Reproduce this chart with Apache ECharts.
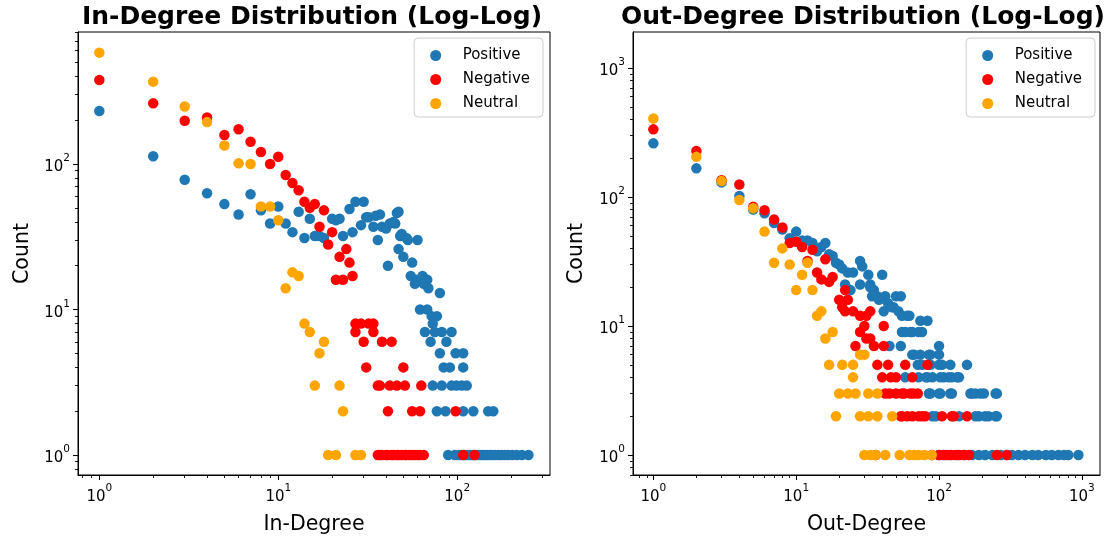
<!DOCTYPE html>
<html><head><meta charset="utf-8">
<script src="https://cdn.jsdelivr.net/npm/echarts@6/dist/echarts.min.js"></script>
<style>html,body{margin:0;padding:0;background:#fff}#c{width:1115px;height:540px}</style>
</head><body><div id="c"></div>
<script>
const seriesNames = ['Positive', 'Negative', 'Neutral'];
const seriesColors = ['#1f77b4', '#ff0000', '#ffa500'];
const titles = ['In-Degree Distribution (Log-Log)', 'Out-Degree Distribution (Log-Log)'];
const xNames = ['In-Degree', 'Out-Degree'];
const yName = 'Count';
const majorTickValues = [1, 10, 100, 1000];
const minorTickValues = [0.6, 0.7, 0.8, 0.9, 2, 3, 4, 5, 6, 7, 8, 9, 20, 30, 40, 50, 60, 70, 80, 90, 200, 300, 400, 500, 600, 700, 800, 900, 2000];

// In-degree: [degree, count]
const inPositive = [[1,231],[2,113],[3,78],[4,63],[5,53],[6,45],[7,62],[8,48],[9,39],[10,51],[11,39],[12,34],[13,47],[14,31],[15,42],[16,32],[17,32],[18,31],[20,42],[21,41],[22,42],[23,32],[25,49],[26,34],[27,55],[29,38],[30,55],[31,43],[32,43],[34,37],[35,44],[36,30],[37,45],[38,37],[40,36],[41,20],[42,39],[44,40],[45,39],[46,46],[47,47],[48,32],[49,33],[47,26],[50,23],[52,31],[53,30],[56,21],[60,30],[55,17],[58,15],[59,16],[64,17],[65,15],[68,16],[69,14],[80,13],[62,10],[68,10],[72,9],[77,9],[73,8],[66,7],[75,7],[82,7],[93,7],[71,6],[87,6],[80,5],[98,5],[108,5],[84,4],[91,4],[108,4],[73,3],[82,3],[93,3],[99,3],[106,3],[113,3],[77,2],[86,2],[108,2],[123,2],[149,2],[159,2],[89,1],[97,1],[102,1],[106,1],[110,1],[114,1],[118,1],[122,1],[126,1],[130,1],[134,1],[138,1],[142,1],[147,1],[152,1],[157,1],[163,1],[170,1],[177,1],[185,1],[193,1],[203,1],[215,1],[230,1],[250,1]];
const inNegative = [[1,378],[2,261],[3,198],[4,209],[5,158],[6,173],[7,142],[8,121],[9,100],[10,112],[11,84],[12,74],[13,66],[14,55],[15,50],[16,53],[18,48],[17,37],[20,34],[19,28],[24,26],[22,23],[25,21],[21,16],[23,16],[26,17],[27,8],[29,8],[32,8],[34,8],[27,7],[34,7],[30,6],[38,6],[43,6],[31,4],[50,4],[36,3],[37,3],[42,3],[46,3],[51,3],[63,3],[41,2],[56,2],[62,2],[98,2],[36,1],[37,1],[38,1],[40,1],[41,1],[43,1],[44,1],[46,1],[47,1],[49,1],[51,1],[52,1],[54,1],[56,1],[58,1],[60,1],[62,1],[65,1],[108,1],[125,1]];
const inNeutral = [[1,582],[2,368],[3,248],[4,194],[5,134],[6,101],[7,100],[8,51],[9,51],[10,41],[11,14],[12,18],[13,17],[14,8],[15,7],[18,6],[17,5],[16,3],[22,3],[23,2],[19,1],[21,1],[27,1],[29,1]];

// Out-degree: [degree, count]
const outPositive = [[1,261],[2,167],[3,130],[4,102],[5,80],[6,75],[7,63],[8,56],[9,48],[10,54],[11,46],[12,46],[13,44],[15,41],[16,44],[14,38],[17,36],[18,35],[19,31],[20,30],[21,28],[23,26],[25,26],[28,32],[29,29],[32,25],[40,25],[22,21],[24,19],[28,21],[35,19],[37,17],[42,17],[44,15],[48,14],[50,17],[33,21],[33,20],[34,17],[38,16],[41,13],[47,14],[52,13],[60,12],[54,17],[55,12],[62,12],[74,11],[83,11],[55,9],[63,9],[72,9],[58,9],[65,9],[76,9],[45,7],[54,7],[100,7],[65,6],[67,6],[74,6],[85,6],[87,6],[100,6],[71,5],[76,5],[87,5],[100,5],[105,5],[120,5],[157,5],[58,4],[72,4],[81,4],[83,4],[90,4],[102,4],[108,4],[117,4],[123,4],[134,4],[138,4],[85,3],[87,3],[100,3],[102,3],[120,3],[123,3],[166,3],[170,3],[180,3],[195,3],[206,3],[249,3],[254,3],[90,2],[95,2],[138,2],[180,2],[190,2],[210,2],[222,2],[249,2],[254,2],[100,1],[110,1],[120,1],[135,1],[150,1],[170,1],[190,1],[210,1],[236,1],[270,1],[300,1],[324,1],[360,1],[400,1],[450,1],[495,1],[560,1],[616,1],[686,1],[750,1],[804,1],[946,1]];
const outNegative = [[1,335],[2,228],[3,135],[4,125],[5,84],[6,79],[7,67],[8,58],[9,44],[10,45],[11,41],[13,39],[12,32],[16,33],[14,26],[15,23],[17,22],[18,24],[22,19],[23,16],[20,16],[21,14],[22,13],[25,13],[28,12],[31,12],[33,13],[30,10],[41,10],[28,9],[31,8],[33,8],[26,7],[35,7],[41,7],[37,5],[44,5],[58,5],[83,5],[40,4],[46,4],[50,4],[65,4],[42,3],[45,3],[50,3],[55,3],[57,3],[63,3],[66,3],[71,3],[54,2],[55,2],[60,2],[65,2],[72,2],[76,2],[80,2],[105,2],[123,2],[127,2],[157,2],[36,1],[89,1],[100,1],[107,1],[114,1],[122,1],[130,1],[140,1],[150,1],[162,1],[254,1],[298,1]];
const outNeutral = [[1,407],[2,205],[3,133],[4,95],[5,82],[6,54],[7,31],[8,40],[9,30],[10,19],[11,25],[12,31],[13,19],[14,12],[15,13],[16,8],[18,9],[17,5],[21,5],[25,5],[25,4],[28,6],[30,6],[20,3],[23,3],[26,3],[32,3],[37,3],[19,2],[28,2],[32,2],[37,2],[47,2],[30,1],[33,1],[36,1],[42,1],[53,1],[62,1],[67,1],[72,1],[79,1],[89,1]];

const FONT = 'DejaVu Sans';
function fmt(v) {
  const l = Math.log10(v); const e = Math.round(l);
  if (Math.abs(l - e) > 1e-6) return '';
  return '{b|10}{s|' + e + '}';
}
const rich = {
  b: { fontSize: 15, fontFamily: FONT, color: '#000', lineHeight: 22, verticalAlign: 'bottom' },
  s: { fontSize: 10.5, fontFamily: FONT, color: '#000', lineHeight: 12, verticalAlign: 'top' }
};
function logAxis(gridIndex, min, max, name, nameGap) {
  return {
    type: 'log', logBase: 10, gridIndex, min, max, name,
    nameLocation: 'middle', nameGap,
    nameTextStyle: { fontFamily: FONT, fontSize: 20.5, color: '#000' },
    axisLine: { show: true, onZero: false, lineStyle: { color: '#000', width: 1 } },
    axisTick: { show: false },
    minorTick: { show: false },
    axisLabel: { formatter: fmt, rich, margin: 8, showMinLabel: false, showMaxLabel: false },
    splitLine: { show: false }, minorSplitLine: { show: false }
  };
}
// overlay axes in log10 space used only to draw matplotlib-style major/minor tick marks
function tickAxis(gridIndex, min, max, values, len, width, isY) {
  return {
    type: 'value', gridIndex, min: Math.log10(min), max: Math.log10(max),
    position: isY ? 'left' : 'bottom', silent: true,
    axisLine: { show: false, onZero: false }, axisLabel: { show: false }, splitLine: { show: false },
    axisTick: { show: true, length: len, customValues: values.map(v => Math.log10(v)), lineStyle: { color: '#000', width } }
  };
}
const xRanges = [[0.76, 330], [0.72, 1340]];
const yRanges = [[0.729, 807], [0.70, 1905]];
const grids = [
  { left: 78, top: 32, width: 472, height: 443, show: true, borderColor: '#000', borderWidth: 1 },
  { left: 633, top: 32, width: 467, height: 443, show: true, borderColor: '#000', borderWidth: 1 }
];
const xAxes = [
  logAxis(0, xRanges[0][0], xRanges[0][1], xNames[0], 39),
  logAxis(1, xRanges[1][0], xRanges[1][1], xNames[1], 39)
];
const yAxes = [
  logAxis(0, yRanges[0][0], yRanges[0][1], yName, 45),
  logAxis(1, yRanges[1][0], yRanges[1][1], yName, 46)
];
for (let g = 0; g < 2; g++) {
  xAxes.push(tickAxis(g, xRanges[g][0], xRanges[g][1], majorTickValues, 5, 1.1, false));
  xAxes.push(tickAxis(g, xRanges[g][0], xRanges[g][1], minorTickValues, 3, 0.9, false));
  yAxes.push(tickAxis(g, yRanges[g][0], yRanges[g][1], majorTickValues, 5, 1.1, true));
  yAxes.push(tickAxis(g, yRanges[g][0], yRanges[g][1], minorTickValues, 3, 0.9, true));
}
const data = [[inPositive, inNegative, inNeutral], [outPositive, outNegative, outNeutral]];
const series = [];
for (let g = 0; g < 2; g++) {
  for (let s = 0; s < 3; s++) {
    series.push({
      type: 'scatter', name: seriesNames[s], xAxisIndex: g, yAxisIndex: g,
      data: data[g][s], symbolSize: 10.5,
      itemStyle: { color: seriesColors[s], opacity: 1 },
      emphasis: { disabled: true }
    });
  }
}
function legend(right) {
  return {
    right, top: 38, orient: 'vertical', data: seriesNames, icon: 'circle',
    itemWidth: 44, itemHeight: 11, itemGap: 9, padding: [10, 13, 6, 16],
    borderColor: '#cccccc', borderWidth: 1, borderRadius: 4, backgroundColor: 'rgba(255,255,255,0.8)',
    textStyle: { fontFamily: FONT, fontSize: 15, color: '#000' }
  };
}
const chart = echarts.init(document.getElementById('c'), null, { renderer: 'canvas' });
chart.setOption({
  animation: false,
  backgroundColor: '#fff',
  title: [
    { text: titles[0], left: 312, top: 5, textAlign: 'center', padding: 0, textStyle: { fontFamily: FONT, fontWeight: 'bold', fontSize: 25, color: '#000' } },
    { text: titles[1], left: 863, top: 5, textAlign: 'center', padding: 0, textStyle: { fontFamily: FONT, fontWeight: 'bold', fontSize: 25, color: '#000' } }
  ],
  legend: [legend(572), legend(20)],
  grid: grids,
  xAxis: xAxes,
  yAxis: yAxes,
  series
});
</script></body></html>
